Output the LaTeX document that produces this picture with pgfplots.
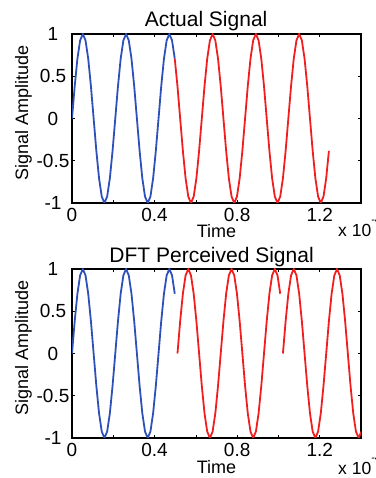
\documentclass[border=0pt]{standalone}
\usepackage{fontspec}
\setmainfont{Liberation Sans}
\usepackage{pgfplots}
\pgfplotsset{compat=1.18}
\usepackage{pgfplotstable}
\definecolor{mblue}{RGB}{45,80,185}
\definecolor{mred}{RGB}{240,30,30}

% actual signal, blue part (samples 0..38)
\pgfplotstableread{
x y
0.0000 0
0.0131 0.3827
0.0262 0.7071
0.0393 0.9239
0.0524 1
0.0655 0.9239
0.0786 0.7071
0.0917 0.3827
0.1048 0
0.1179 -0.3827
0.1310 -0.7071
0.1441 -0.9239
0.1572 -1
0.1703 -0.9239
0.1834 -0.7071
0.1965 -0.3827
0.2096 0
0.2227 0.3827
0.2358 0.7071
0.2489 0.9239
0.2620 1
0.2751 0.9239
0.2882 0.7071
0.3013 0.3827
0.3144 0
0.3275 -0.3827
0.3406 -0.7071
0.3537 -0.9239
0.3668 -1
0.3799 -0.9239
0.3930 -0.7071
0.4061 -0.3827
0.4192 0
0.4323 0.3827
0.4454 0.7071
0.4585 0.9239
0.4716 1
0.4847 0.9239
0.4978 0.7071
}\blueA

% actual signal, red part (samples 38..95)
\pgfplotstableread{
x y
0.4978 0.7071
0.5109 0.3827
0.5240 0
0.5371 -0.3827
0.5502 -0.7071
0.5633 -0.9239
0.5764 -1
0.5895 -0.9239
0.6026 -0.7071
0.6157 -0.3827
0.6288 0
0.6419 0.3827
0.6550 0.7071
0.6681 0.9239
0.6812 1
0.6943 0.9239
0.7074 0.7071
0.7205 0.3827
0.7336 0
0.7467 -0.3827
0.7598 -0.7071
0.7729 -0.9239
0.7860 -1
0.7991 -0.9239
0.8122 -0.7071
0.8253 -0.3827
0.8384 0
0.8515 0.3827
0.8646 0.7071
0.8777 0.9239
0.8908 1
0.9039 0.9239
0.9170 0.7071
0.9301 0.3827
0.9432 0
0.9563 -0.3827
0.9694 -0.7071
0.9825 -0.9239
0.9956 -1
1.0087 -0.9239
1.0218 -0.7071
1.0349 -0.3827
1.0480 0
1.0611 0.3827
1.0742 0.7071
1.0873 0.9239
1.1004 1
1.1135 0.9239
1.1266 0.7071
1.1397 0.3827
1.1528 0
1.1659 -0.3827
1.1790 -0.7071
1.1921 -0.9239
1.2052 -1
1.2183 -0.9239
1.2314 -0.7071
1.2445 -0.3827
}\redA

% perceived signal, red window 1 (samples 39..77)
\pgfplotstableread{
x y
0.5109 0
0.5240 0.3827
0.5371 0.7071
0.5502 0.9239
0.5633 1
0.5764 0.9239
0.5895 0.7071
0.6026 0.3827
0.6157 0
0.6288 -0.3827
0.6419 -0.7071
0.6550 -0.9239
0.6681 -1
0.6812 -0.9239
0.6943 -0.7071
0.7074 -0.3827
0.7205 0
0.7336 0.3827
0.7467 0.7071
0.7598 0.9239
0.7729 1
0.7860 0.9239
0.7991 0.7071
0.8122 0.3827
0.8253 0
0.8384 -0.3827
0.8515 -0.7071
0.8646 -0.9239
0.8777 -1
0.8908 -0.9239
0.9039 -0.7071
0.9170 -0.3827
0.9301 0
0.9432 0.3827
0.9563 0.7071
0.9694 0.9239
0.9825 1
0.9956 0.9239
1.0087 0.7071
}\redB

% perceived signal, red window 2 (samples 78..107)
\pgfplotstableread{
x y
1.0218 0
1.0349 0.3827
1.0480 0.7071
1.0611 0.9239
1.0742 1
1.0873 0.9239
1.1004 0.7071
1.1135 0.3827
1.1266 0
1.1397 -0.3827
1.1528 -0.7071
1.1659 -0.9239
1.1790 -1
1.1921 -0.9239
1.2052 -0.7071
1.2183 -0.3827
1.2314 0
1.2445 0.3827
1.2576 0.7071
1.2707 0.9239
1.2838 1
1.2969 0.9239
1.3100 0.7071
1.3231 0.3827
1.3362 0
1.3493 -0.3827
1.3624 -0.7071
1.3755 -0.9239
1.3886 -1
1.4017 -0.9239
}\redC

\pgfplotsset{
  mstyle/.style={
    scale only axis, width=289pt, height=169pt,
    xmin=0, xmax=1.4, ymin=-1, ymax=1,
    axis line style={line width=1.5pt},
    tick pos=both, tick align=inside, ticklabel pos=left,
    major tick length=3pt,
    tick style={black, line width=0.7pt},
    xtick={0,0.2,0.4,0.6,0.8,1.0,1.2,1.4},
    xticklabels={0,,0.4,,0.8,,1.2,},
    ytick={-1,-0.5,0,0.5,1},
    yticklabels={-1,-0.5,0,0.5,1},
    tick label style={font=\fontsize{19}{20}\selectfont},
    xticklabel style={anchor=base, yshift=-18.5pt},
    yticklabel style={anchor=center, xshift=-19pt},
    xlabel={Time},
    ylabel={Signal Amplitude},
    label style={font=\fontsize{18}{19}\selectfont},
    xlabel style={at={(axis description cs:0.5,0)}, anchor=base, yshift=-35pt},
    ylabel style={at={(axis description cs:-0.152,0.535)}, anchor=base, rotate=0},
    title style={font=\fontsize{21}{22}\selectfont, anchor=base},
    clip=true,
  }
}

\begin{document}
\begin{tikzpicture}[x=1pt,y=1pt]
\useasboundingbox (0,0) rectangle (375,478);
\begin{axis}[mstyle, at={(72pt,275pt)}, anchor=south west,
  title={Actual Signal},
  title style={at={(axis description cs:0.464,1)}, yshift=1pt}]
\addplot[mblue, line width=1.8pt] table[x=x,y=y] {\blueA};
\addplot[mred, line width=1.8pt] table[x=x,y=y] {\redA};
\end{axis}
\node[anchor=base west, font=\fontsize{17.5}{18}\selectfont, inner sep=0pt] at (338,241) {x 10\raisebox{13pt}{\fontsize{11}{11}\selectfont -4}};
\begin{axis}[mstyle, at={(72pt,40pt)}, anchor=south west,
  title={DFT Perceived Signal},
  title style={at={(axis description cs:0.483,1)}, yshift=0pt}]
\addplot[mblue, line width=1.8pt] table[x=x,y=y] {\blueA};
\addplot[mred, line width=1.8pt] table[x=x,y=y] {\redB};
\addplot[mred, line width=1.8pt] table[x=x,y=y] {\redC};
\end{axis}
\node[anchor=base west, font=\fontsize{17.5}{18}\selectfont, inner sep=0pt] at (338,4) {x 10\raisebox{13pt}{\fontsize{11}{11}\selectfont -4}};
\end{tikzpicture}
\end{document}
